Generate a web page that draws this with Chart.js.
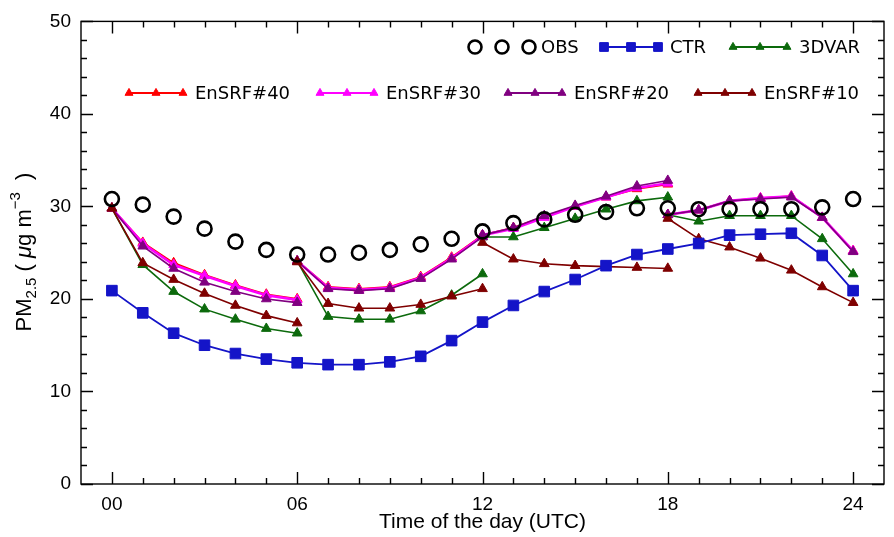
<!DOCTYPE html>
<html>
<head>
<meta charset="utf-8">
<script src="https://cdn.jsdelivr.net/npm/chart.js@4.4.1/dist/chart.umd.min.js"></script>
<style>
  html, body { margin: 0; padding: 0; background: #fff; }
  #wrap { width: 894px; height: 537px; }
</style>
</head>
<body>
<div id="wrap"><canvas id="pmChart" width="894" height="537"></canvas></div>
<script>
// hours of the day, and tick labels on the x axis
const hours = [0,1,2,3,4,5,6,7,8,9,10,11,12,13,14,15,16,17,18,19,20,21,22,23,24];
const hourTicks = [0, 6, 12, 18, 24];
const hourLabels = ['00', '06', '12', '18', '24'];

// continuous series (one value per hour)
const obs = [30.8,30.2,28.9,27.6,26.2,25.3,24.8,24.8,25.0,25.3,25.9,26.5,27.3,28.2,28.6,29.1,29.4,29.8,29.8,29.7,29.7,29.7,29.7,29.9,30.8];
const ctr = [20.9,18.5,16.3,15.0,14.1,13.5,13.1,12.9,12.9,13.2,13.8,15.5,17.5,19.3,20.8,22.1,23.6,24.8,25.4,26.0,26.9,27.0,27.1,24.7,20.9];

// cycled series: one list per 6-hour window (00-06, 06-12, 12-18, 18-24)
const var3d = [
    [29.8,23.7,20.8,18.9,17.8,16.8,16.3],
    [24.1,18.1,17.8,17.8,18.7,20.4,22.7],
    [26.7,26.7,27.7,28.7,29.7,30.6,31.0],
    [29.1,28.4,29.0,29.0,29.0,26.5,22.7]
];
const ensrf40 = [
    [29.8,26.1,23.9,22.6,21.5,20.5,20.0],
    [24.1,21.3,21.1,21.3,22.4,24.5,26.9],
    [26.9,27.7,28.9,30.0,31.0,31.9,32.4],
    [29.1,29.6,30.6,30.9,31.1,28.8,25.2]
];
const ensrf30 = [
    [29.8,26.0,23.7,22.5,21.4,20.4,19.9],
    [24.1,21.2,21.0,21.2,22.3,24.4,26.8],
    [26.9,27.6,28.8,30.0,31.0,32.0,32.5],
    [29.1,29.6,30.6,30.9,31.1,28.8,25.2]
];
const ensrf20 = [
    [29.8,25.7,23.3,21.8,20.8,20.0,19.6],
    [24.1,21.1,20.9,21.1,22.2,24.3,26.7],
    [26.9,27.7,29.0,30.1,31.1,32.2,32.8],
    [29.1,29.6,30.6,30.8,31.0,28.8,25.1]
];
const ensrf10 = [
    [29.8,23.9,22.1,20.6,19.3,18.2,17.4],
    [24.0,19.5,19.0,19.0,19.4,20.3,21.1],
    [26.1,24.3,23.8,23.6,23.5,23.4,23.3],
    [28.7,26.5,25.6,24.4,23.1,21.3,19.6]
];

function hourly(values) {
    return values.map((v, i) => ({ x: hours[i], y: v }));
}

// join the windows, with a null point so the line breaks between them
function windows(segs) {
    const out = [];
    segs.forEach((seg, s) => {
        if (s > 0) out.push({ x: hours[s * 6], y: null });
        seg.forEach((v, j) => out.push({ x: hours[s * 6 + j], y: v }));
    });
    return out;
}

function lineSet(label, data, color, style, radius, width, order) {
    return {
        label: label,
        data: data,
        borderColor: color,
        backgroundColor: color,
        borderWidth: width,
        pointStyle: style,
        pointRadius: radius,
        pointBorderWidth: 1,
        pointHoverRadius: radius,
        spanGaps: false,
        tension: 0,
        order: order
    };
}

const datasets = [
    {
        label: 'OBS',
        data: hourly(obs),
        showLine: false,
        borderColor: '#000',
        backgroundColor: 'rgba(0,0,0,0)',
        pointStyle: 'circle',
        pointRadius: 7,
        pointBorderWidth: 2.6,
        order: 0
    },
    lineSet('CTR', hourly(ctr), '#1414c8', 'rect', 7.5, 1.8, 1),
    lineSet('3DVAR', windows(var3d), '#0c6a0c', 'triangle', 5.6, 1.6, 6),
    lineSet('EnSRF#40', windows(ensrf40), '#ff0000', 'triangle', 5.6, 1.8, 5),
    lineSet('EnSRF#30', windows(ensrf30), '#ff00ff', 'triangle', 5.6, 2.6, 4),
    lineSet('EnSRF#20', windows(ensrf20), '#800080', 'triangle', 5.6, 1.6, 3),
    lineSet('EnSRF#10', windows(ensrf10), '#7f0000', 'triangle', 5.6, 1.6, 2)
];

// legend placement: [dataset index, x of first marker, row y]
const legendSpots = [
    [0, 475, 47], [1, 604, 47], [2, 733, 47],
    [3, 129, 93], [4, 320, 93], [5, 508, 93], [6, 698, 93]
];

const framePlugin = {
    id: 'frame',
    afterDraw(chart) {
        const ctx = chart.ctx;
        const area = chart.chartArea;
        const xs = chart.scales.x;
        const ys = chart.scales.y;
        ctx.save();
        ctx.strokeStyle = '#000';
        ctx.lineWidth = 1.4;
        ctx.strokeRect(area.left, area.top, area.right - area.left, area.bottom - area.top);

        // inward ticks, y: every 2 minor, every 10 major
        for (let v = 0; v <= 50; v += 2) {
            const py = Math.round(ys.getPixelForValue(v)) + 0.5;
            const len = v % 10 === 0 ? 12 : 6;
            ctx.beginPath();
            ctx.moveTo(area.left, py); ctx.lineTo(area.left + len, py);
            ctx.moveTo(area.right, py); ctx.lineTo(area.right - len, py);
            ctx.stroke();
        }
        // inward ticks, x: every hour minor, every 6 hours major
        for (let h = 0; h <= 24; h++) {
            const px = Math.round(xs.getPixelForValue(h)) + 0.5;
            const len = h % 6 === 0 ? 12 : 6;
            ctx.beginPath();
            ctx.moveTo(px, area.bottom); ctx.lineTo(px, area.bottom - len);
            ctx.moveTo(px, area.top); ctx.lineTo(px, area.top + len);
            ctx.stroke();
        }

        // legend
        ctx.font = '18px "DejaVu Sans"';
        ctx.textBaseline = 'middle';
        ctx.textAlign = 'left';
        legendSpots.forEach(([i, x0, y]) => {
            const ds = chart.data.datasets[i];
            ctx.strokeStyle = ds.borderColor;
            ctx.fillStyle = ds.backgroundColor;
            if (ds.showLine !== false) {
                ctx.lineWidth = 1.8;
                ctx.beginPath();
                ctx.moveTo(x0, y); ctx.lineTo(x0 + 54, y);
                ctx.stroke();
            }
            const r = ds.pointStyle === 'circle' ? 6.5 : (ds.pointStyle === 'rect' ? 6.2 : 4.6);
            ctx.lineWidth = ds.pointStyle === 'circle' ? 2.6 : 1;
            [0, 27, 54].forEach(dx => {
                Chart.helpers.drawPoint(ctx, { pointStyle: ds.pointStyle, radius: r, rotation: 0, borderWidth: ctx.lineWidth }, x0 + dx, y);
            });
            ctx.fillStyle = '#000';
            ctx.fillText(ds.label, x0 + 66, y + 1);
        });

        // y axis title: PM2.5 ( μg m-3 )
        const pieces = [
            { t: 'PM', size: 22, dy: 0 },
            { t: '2.5', size: 15, dy: 5 },
            { t: ' ( ', size: 22, dy: 0 },
            { t: 'μ', size: 22, dy: 0, italic: true },
            { t: 'g m', size: 22, dy: 0 },
            { t: '−3', size: 15, dy: -11 },
            { t: '  )', size: 22, dy: 0 }
        ];
        const fontOf = p => (p.italic ? 'italic ' : '') + p.size + 'px "Liberation Sans"';
        let total = 0;
        pieces.forEach(p => { ctx.font = fontOf(p); p.w = ctx.measureText(p.t).width; total += p.w; });
        ctx.translate(23, 252);
        ctx.rotate(-Math.PI / 2);
        ctx.textBaseline = 'alphabetic';
        ctx.fillStyle = '#000';
        let cx = -total / 2;
        pieces.forEach(p => {
            ctx.font = fontOf(p);
            ctx.fillText(p.t, cx, 8 + p.dy);
            cx += p.w;
        });
        ctx.restore();
    }
};

new Chart(document.getElementById('pmChart'), {
    type: 'line',
    data: { datasets: datasets },
    options: {
        responsive: false,
        animation: false,
        events: [],
        layout: { padding: { top: 11, right: 10, left: 0, bottom: 0 } },
        plugins: {
            legend: { display: false },
            tooltip: { enabled: false }
        },
        scales: {
            x: {
                type: 'linear',
                min: -1,
                max: 25,
                afterBuildTicks: s => { s.ticks = hourTicks.map(v => ({ value: v })); },
                afterFit: s => { s.height = 53; },
                grid: { display: false, drawTicks: false },
                border: { display: false },
                ticks: {
                    autoSkip: false,
                    maxRotation: 0,
                    padding: 9,
                    color: '#000',
                    font: { family: 'Liberation Sans', size: 19 },
                    callback: v => hourLabels[hourTicks.indexOf(v)]
                },
                title: {
                    display: true,
                    text: 'Time of the day (UTC)',
                    color: '#000',
                    font: { family: 'Liberation Sans', size: 21 },
                    padding: { top: 0, bottom: 2 }
                }
            },
            y: {
                min: 0,
                max: 50,
                afterFit: s => { s.width = 81; },
                grid: { display: false, drawTicks: false },
                border: { display: false },
                ticks: {
                    stepSize: 10,
                    padding: 10,
                    color: '#000',
                    font: { family: 'Liberation Sans', size: 19 }
                }
            }
        }
    },
    plugins: [framePlugin]
});
</script>
</body>
</html>
